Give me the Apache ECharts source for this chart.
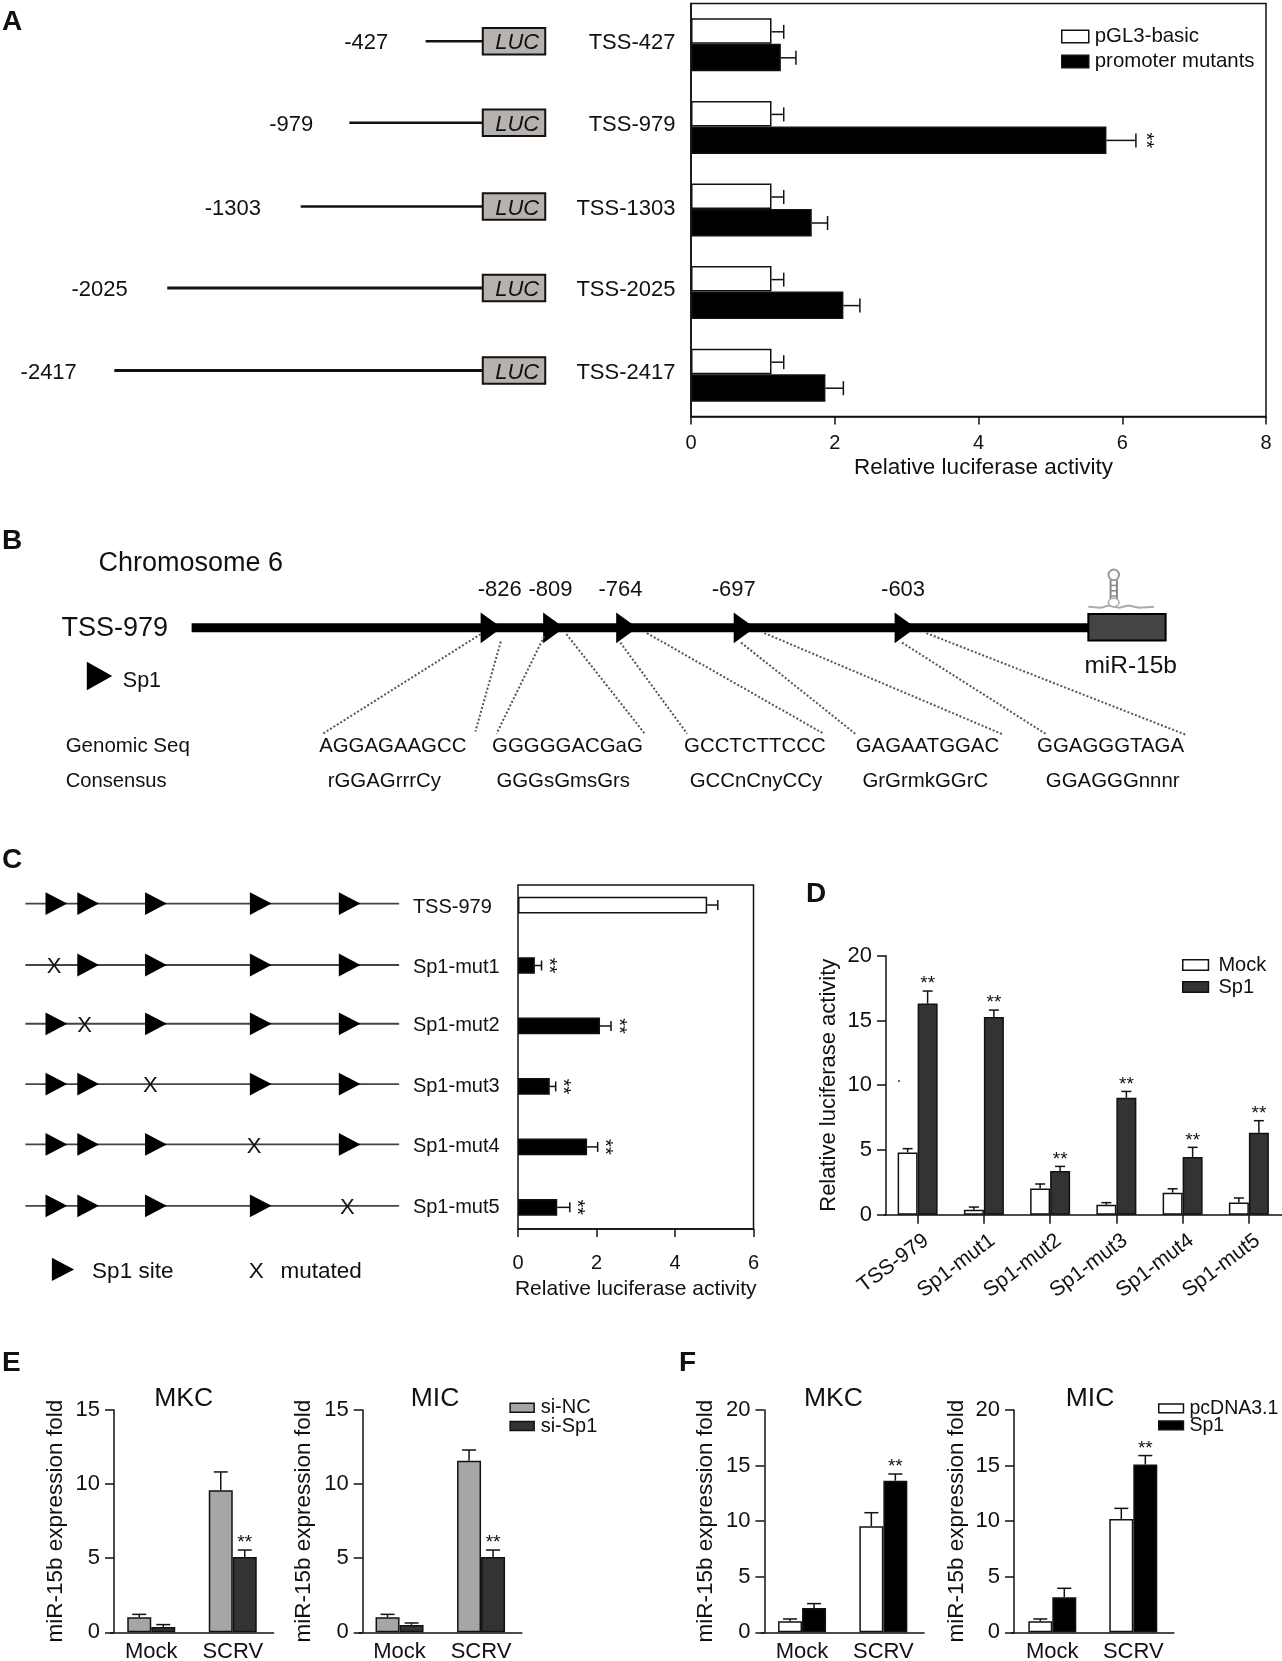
<!DOCTYPE html>
<html>
<head>
<meta charset="utf-8">
<script src="https://cdn.jsdelivr.net/npm/echarts@6/dist/echarts.min.js"></script>
<style>
html,body{margin:0;padding:0;background:#fff;}
#main{width:1282px;height:1661px;}
</style>
</head>
<body>
<div id="main"></div>
<script>
// panel A
var a_cats=["TSS-427","TSS-979","TSS-1303","TSS-2025","TSS-2417"];
var a_basic=[1.12,1.12,1.12,1.12,1.12];
var a_basic_top=[1.29,1.29,1.29,1.29,1.29];
var a_mutant=[1.25,5.78,1.68,2.12,1.87];
var a_mutant_top=[1.46,6.19,1.9,2.35,2.12];
var a_mutant_star=[0,1,0,0,0];
var a_none=[0,0,0,0,0];
// panel C
var c_cats=["TSS-979","Sp1-mut1","Sp1-mut2","Sp1-mut3","Sp1-mut4","Sp1-mut5"];
var c_values=[4.82,0.43,2.09,0.81,1.76,1.0];
var c_tops=[5.09,0.6,2.37,0.96,2.03,1.32];
var c_star=[0,1,1,1,1,1];
// panel D
var d_cats=["TSS-979","Sp1-mut1","Sp1-mut2","Sp1-mut3","Sp1-mut4","Sp1-mut5"];
var d_mock=[4.81,0.39,2.03,0.77,1.7,0.95];
var d_mock_top=[5.1,0.59,2.37,0.93,2.0,1.29];
var d_sp1=[16.3,15.26,3.37,9.03,4.45,6.33];
var d_sp1_top=[17.27,15.8,3.73,9.52,5.2,7.26];
var d_star=[1,1,1,1,1,1];
var d_none=[0,0,0,0,0,0];
// panels E and F
var ef_cats=["Mock","SCRV"];
var e1_nc=[1.01,9.58],e1_nc_top=[1.21,10.82],e1_si=[0.36,5.08],e1_si_top=[0.52,5.55];
var e2_nc=[1.01,11.58],e2_nc_top=[1.21,12.3],e2_si=[0.5,5.08],e2_si_top=[0.63,5.55];
var f1_pc=[0.99,9.54],f1_pc_top=[1.2,10.76],f1_sp=[2.19,13.64],f1_sp_top=[2.58,14.24];
var f2_pc=[0.99,10.2],f2_pc_top=[1.2,11.15],f2_sp=[3.15,15.1],f2_sp_top=[3.96,15.9];
var ef_star=[0,1],ef_none=[0,0];

var FONT='"Liberation Sans", Arial, sans-serif';
var INK="#111";
var S=1.0587; // schematic numbers below were measured on a 1211px wide copy

var chart=echarts.init(document.getElementById("main"));

function barSeries(name,idx,values,color,width){
    return {
        name:name,type:"bar",xAxisIndex:idx,yAxisIndex:idx,
        data:values,barWidth:width,barGap:0,
        itemStyle:{color:color,borderColor:INK,borderWidth:1.5},
        silent:true
    };
}
// error bar with optional ** drawn from the data through the axes
function errSeries(idx,values,tops,stars,offset,horizontal,capHalf,starGap){
    var rows=[];
    for(var i=0;i<values.length;i++){
        rows.push(horizontal?[values[i],i,tops[i],stars[i]]:[i,values[i],tops[i],stars[i]]);
    }
    return {
        type:"custom",xAxisIndex:idx,yAxisIndex:idx,data:rows,silent:true,clip:false,z:5,
        renderItem:function(params,api){
            var lw={stroke:INK,lineWidth:1.5};
            var kids=[];
            if(horizontal){
                var a=api.coord([api.value(0),api.value(1)]);
                var b=api.coord([api.value(2),api.value(1)]);
                var y=a[1]+offset;
                kids.push({type:"line",shape:{x1:a[0],y1:y,x2:b[0],y2:y},style:lw});
                kids.push({type:"line",shape:{x1:b[0],y1:y-capHalf,x2:b[0],y2:y+capHalf},style:lw});
                if(api.value(3)){
                    kids.push({type:"text",x:b[0]+starGap,y:y,rotation:-Math.PI/2,
                        style:{text:"**",font:"20px "+FONT,fill:INK,align:"center",verticalAlign:"middle"}});
                }
            }else{
                var c=api.coord([api.value(0),api.value(1)]);
                var d=api.coord([api.value(0),api.value(2)]);
                var x=c[0]+offset;
                kids.push({type:"line",shape:{x1:x,y1:c[1],x2:x,y2:d[1]},style:lw});
                kids.push({type:"line",shape:{x1:x-capHalf,y1:d[1],x2:x+capHalf,y2:d[1]},style:lw});
                if(api.value(3)){
                    kids.push({type:"text",x:x,y:d[1]-starGap,
                        style:{text:"**",font:"19px "+FONT,fill:INK,align:"center",verticalAlign:"middle"}});
                }
            }
            return {type:"group",children:kids};
        }
    };
}
function valueAxisY(idx,max,interval,name,offset,nameGap,nameSize){
    return {
        type:"value",gridIndex:idx,min:0,max:max,interval:interval,offset:offset,
        name:name,nameLocation:"middle",nameGap:nameGap,nameRotate:90,
        nameTextStyle:{fontFamily:FONT,fontSize:nameSize,color:INK},
        axisLine:{show:true,onZero:false,lineStyle:{color:INK,width:1.5}},
        axisTick:{show:true,length:9,lineStyle:{color:INK,width:1.5}},
        axisLabel:{fontFamily:FONT,fontSize:22,color:INK,margin:14},
        splitLine:{show:false}
    };
}
function catAxisX(idx,cats,ticks,labelExtra){
    var label={fontFamily:FONT,fontSize:22,color:INK,margin:9,interval:0};
    for(var k in labelExtra){label[k]=labelExtra[k];}
    return {
        type:"category",gridIndex:idx,data:cats,
        axisLine:{show:true,onZero:false,lineStyle:{color:INK,width:1.5}},
        axisTick:{show:ticks,alignWithLabel:true,length:9,lineStyle:{color:INK,width:1.5}},
        axisLabel:label,
        splitLine:{show:false}
    };
}
function horizValueX(idx,max,interval,offset,margin,nameGap,fontSize,namePad){
    return {
        type:"value",gridIndex:idx,min:0,max:max,interval:interval,offset:offset,position:"bottom",
        name:"Relative luciferase activity",nameLocation:"middle",nameGap:nameGap,
        nameTextStyle:{fontFamily:FONT,fontSize:fontSize,color:INK,padding:[0,0,0,namePad]},
        axisLine:{show:true,onZero:false,lineStyle:{color:INK,width:1.5}},
        axisTick:{show:true,length:8,lineStyle:{color:INK,width:1.5}},
        axisLabel:{fontFamily:FONT,fontSize:20,color:INK,margin:margin},
        splitLine:{show:false}
    };
}
function horizCatY(idx,cats,showLine){
    return {
        type:"category",gridIndex:idx,data:cats,inverse:true,
        axisLine:{show:showLine,onZero:false,lineStyle:{color:INK,width:1.5}},
        axisTick:{show:false},axisLabel:{show:false},splitLine:{show:false}
    };
}
function legendAt(left,top,w,h,size,lineHeight,gap,textPad,items){
    return {
        orient:"vertical",left:left,top:top,itemWidth:w,itemHeight:h,itemGap:gap,
        selectedMode:false,padding:0,icon:"rect",
        textStyle:{fontFamily:FONT,fontSize:size,lineHeight:lineHeight,color:INK,padding:[0,0,0,textPad]},
        data:items.map(function(it){
            return {name:it[0],icon:"rect",itemStyle:{color:it[1],borderColor:INK,borderWidth:1.5}};
        })
    };
}

/* ---------- schematic parts ---------- */
var g=[];
function txt(x,y,str,size,align,extra){
    var el={type:"text",silent:true,x:x,y:y+2,
        style:{text:str,font:(extra||"")+" "+size+"px "+FONT,fill:INK,align:align||"left",verticalAlign:"middle"}};
    g.push(el);
}
function line(x1,y1,x2,y2,w,color,dash){
    g.push({type:"line",silent:true,shape:{x1:x1*S,y1:y1*S,x2:x2*S,y2:y2*S},
        style:{stroke:color||INK,lineWidth:w,lineDash:dash||null}});
}
function tri(x,y,w,h){
    g.push({type:"polygon",silent:true,shape:{points:[[x*S,(y-h/2)*S],[(x+w)*S,y*S],[x*S,(y+h/2)*S]]},style:{fill:"#000"}});
}

// panel letters
txt(2,20,"A",28,"left","bold");
txt(2,539,"B",28,"left","bold");
txt(2,858,"C",28,"left","bold");
txt(806,892,"D",28,"left","bold");
txt(2,1361,"E",28,"left","bold");
txt(679,1361,"F",28,"left","bold");

// A: promoter constructs
var a_rows=[39,116,195,272,350];
var a_lineFrom=[402,330,284,158,108];
var a_labelX=[346,275,220,94,46];
var a_pos=["-427","-979","-1303","-2025","-2417"];
a_rows.forEach(function(y,i){
    line(a_lineFrom[i],y,456,y,i>=3?3:2.5);
    g.push({type:"rect",silent:true,shape:{x:456*S,y:(y-12.5)*S,width:59*S,height:25*S},style:{fill:"#b8b2ae",stroke:INK,lineWidth:2}});
    txt(488.5*S,y*S,"LUC",22,"center","italic");
    txt(a_labelX[i]*S,y*S,a_pos[i],22,"center");
    txt(638*S,y*S,a_cats[i],22,"right");
});

// B: chromosome line and Sp1 sites
txt(93*S,530*S,"Chromosome 6",27);
txt(58*S,592*S,"TSS-979",27);
line(181,593,1030,593,9,"#000");
[454,513,582,693,845].forEach(function(x){tri(x,593,20,29);});
["-826","-809","-764","-697","-603"].forEach(function(t,i){
    txt([472,520,586,693,853][i]*S,555*S,t,22,"center");
});
g.push({type:"rect",silent:true,shape:{x:1028*S,y:580*S,width:73*S,height:25*S},style:{fill:"#444",stroke:"#000",lineWidth:2}});
txt(1068*S,627*S,"miR-15b",24.5,"center");
// hairpin above the box
g.push({type:"polyline",silent:true,shape:{points:[[1028,573],[1040,574],[1047,572],[1057,574],[1066,572],[1076,574],[1090,573]].map(function(p){return [p[0]*S,p[1]*S];})},style:{stroke:"#aaa",lineWidth:2,fill:null}});
g.push({type:"ellipse",silent:true,shape:{cx:1052*S,cy:543*S,rx:5*S,ry:5*S},style:{stroke:"#999",fill:"#fff",lineWidth:2}});
line(1049,548,1049,566,2,"#888");
line(1055,548,1055,566,2,"#888");
line(1049,553,1055,553,1.5,"#888");
line(1049,558,1055,558,1.5,"#888");
line(1049,563,1055,563,1.5,"#888");
g.push({type:"ellipse",silent:true,shape:{cx:1052*S,cy:569*S,rx:5*S,ry:4*S},style:{stroke:"#aaa",fill:"#fff",lineWidth:1.5}});
tri(82,638.5,24,27);
txt(116*S,641*S,"Sp1",21.5);
var b_dots=[[454,599,305,693],[473,606,449,691],[514,601,469,693],[535,599,609,693],[586,607,649,693],
    [611,598,778,693],[700,607,809,694],[722,598,948,694],[852,607,989,694],[875,598,1120,694]];
b_dots.forEach(function(d){line(d[0],d[1],d[2],d[3],2,"#555",[2,2]);});
txt(62*S,703*S,"Genomic Seq",20.5);
txt(62*S,736*S,"Consensus",20.2);
["AGGAGAAGCC","GGGGGACGaG","GCCTCTTCCC","GAGAATGGAC","GGAGGGTAGA"].forEach(function(t,i){
    txt([371,536,713,876,1049][i]*S,703*S,t,20.4,"center");
});
["rGGAGrrrCy","GGGsGmsGrs","GCCnCnyCCy","GrGrmkGGrC","GGAGGGnnnr"].forEach(function(t,i){
    txt([363,532,714,874,1051][i]*S,736*S,t,20.4,"center");
});

// C: site maps, x marks the mutated site
var c_rows=[853.5,911.5,967,1024,1081,1139];
var c_sites=[43,73,137,236,320];
var c_xmark=[null,51,80,142,240,328];
c_rows.forEach(function(y,r){
    line(24,y,377,y,1.8,"#444");
    c_sites.forEach(function(x,s){
        if(r===s+1){return;}
        tri(x,y,20.5,21.5);
    });
    if(c_xmark[r]!==null){
        txt(c_xmark[r]*S,y*S,"X",22,"center");
    }
    txt(390*S,(y+(r===0?2:0))*S,c_cats[r],20);
});
tri(49,1199,21,22);
txt(87*S,1199*S,"Sp1 site",22.5);
txt(242*S,1199*S,"X",22.5,"center");
txt(265*S,1199*S,"mutated",22.5);
// C frame
g.push({type:"rect",silent:true,shape:{x:518,y:885,width:235.5,height:344},style:{fill:"none",stroke:INK,lineWidth:1.5}});
// stray dot in D
g.push({type:"circle",silent:true,shape:{cx:899,cy:1081,r:1},style:{fill:"#333"}});
// E and F titles
txt(183.6,1397,"MKC",26.5,"center");
txt(435,1397,"MIC",26.5,"center");
txt(833.4,1397,"MKC",26.5,"center");
txt(1090,1397,"MIC",26.5,"center");

/* ---------- option ---------- */
var EF_TOP=1410,EF_H=222.3,EF_NAME="miR-15b expression fold";
var EF_LABEL={margin:9};
var option={
    animation:false,
    backgroundColor:"#fff",
    grid:[
        {left:691,top:3.5,width:575,height:413,show:true,borderColor:INK,borderWidth:1.5,backgroundColor:"transparent",outerBoundsMode:"none"},
        {left:518,top:874.8,width:235.5,height:362.8,outerBoundsMode:"none"},
        {left:884.5,top:955.7,width:397.5,height:259,outerBoundsMode:"none"},
        {left:110.5,top:EF_TOP,width:163,height:EF_H,outerBoundsMode:"none"},
        {left:358.8,top:EF_TOP,width:163,height:EF_H,outerBoundsMode:"none"},
        {left:761.4,top:EF_TOP,width:162.6,height:EF_H,outerBoundsMode:"none"},
        {left:1011.8,top:EF_TOP,width:162,height:EF_H,outerBoundsMode:"none"}
    ],
    xAxis:[
        horizValueX(0,8,2,0,17,40,22.5,10),
        horizValueX(1,6,2,-8.6,24,50,21,0),
        catAxisX(2,d_cats,true,{rotate:37,fontSize:21,margin:12,verticalAlign:"top",lineHeight:29}),
        catAxisX(3,ef_cats,false,EF_LABEL),
        catAxisX(4,ef_cats,false,EF_LABEL),
        catAxisX(5,ef_cats,false,EF_LABEL),
        catAxisX(6,ef_cats,false,EF_LABEL)
    ],
    yAxis:[
        horizCatY(0,a_cats,true),
        horizCatY(1,c_cats,false),
        valueAxisY(2,20,5,"Relative luciferase activity",-1.5,46,22),
        valueAxisY(3,15,5,EF_NAME,-3.5,47,22.5),
        valueAxisY(4,15,5,EF_NAME,-3.9,47,22.5),
        valueAxisY(5,20,5,EF_NAME,-3,47,22.5),
        valueAxisY(6,20,5,EF_NAME,-2.2,46,22.5)
    ],
    legend:[
        legendAt(1061,24,27,12.5,20.4,25,0,1,[["pGL3-basic","#fff"],["promoter mutants","#000"]]),
        legendAt(1182,954,25.7,10.7,20,22,0,5,[["Mock","#fff"],["Sp1","#333"]]),
        legendAt(509.4,1396.7,24,9,20,22,-3.7,1.5,[["si-NC","#a6a6a8"],["si-Sp1","#333"]]),
        legendAt(1158,1397.4,24.7,8.7,19.5,22,-5,1,[["pcDNA3.1","#fff"],["Sp1","#000"]])
    ],
    series:[
        barSeries("pGL3-basic",0,a_basic,"#fff",25.5),
        barSeries("promoter mutants",0,a_mutant,"#000",27.5),
        errSeries(0,a_basic,a_basic_top,a_none,-13,true,7,10),
        errSeries(0,a_mutant,a_mutant_top,a_mutant_star,13,true,7,10),

        {name:"Relative luciferase activity",type:"bar",xAxisIndex:1,yAxisIndex:1,barWidth:16.7,silent:true,
            data:c_values.map(function(v,i){
                return {value:v,itemStyle:{color:i===0?"#fff":"#000",borderColor:INK,borderWidth:1.5}};
            })},
        errSeries(1,c_values,c_tops,c_star,0,true,5,7),

        barSeries("Mock",2,d_mock,"#fff",20),
        barSeries("Sp1",2,d_sp1,"#333",20),
        errSeries(2,d_mock,d_mock_top,d_none,-10,false,5,7),
        errSeries(2,d_sp1,d_sp1_top,d_star,10,false,5,7),

        barSeries("si-NC",3,e1_nc,"#a6a6a8",24),
        barSeries("si-Sp1",3,e1_si,"#333",24),
        errSeries(3,e1_nc,e1_nc_top,ef_none,-12,false,7,7),
        errSeries(3,e1_si,e1_si_top,ef_star,12,false,7,7),

        barSeries("si-NC",4,e2_nc,"#a6a6a8",24),
        barSeries("si-Sp1",4,e2_si,"#333",24),
        errSeries(4,e2_nc,e2_nc_top,ef_none,-12,false,7,7),
        errSeries(4,e2_si,e2_si_top,ef_star,12,false,7,7),

        barSeries("pcDNA3.1",5,f1_pc,"#fff",24),
        barSeries("Sp1",5,f1_sp,"#000",24),
        errSeries(5,f1_pc,f1_pc_top,ef_none,-12,false,7,7),
        errSeries(5,f1_sp,f1_sp_top,ef_star,12,false,7,7),

        barSeries("pcDNA3.1",6,f2_pc,"#fff",24),
        barSeries("Sp1",6,f2_sp,"#000",24),
        errSeries(6,f2_pc,f2_pc_top,ef_none,-12,false,7,7),
        errSeries(6,f2_sp,f2_sp_top,ef_star,12,false,7,7)
    ],
    graphic:{elements:g}
};
chart.setOption(option);
</script>
</body>
</html>
